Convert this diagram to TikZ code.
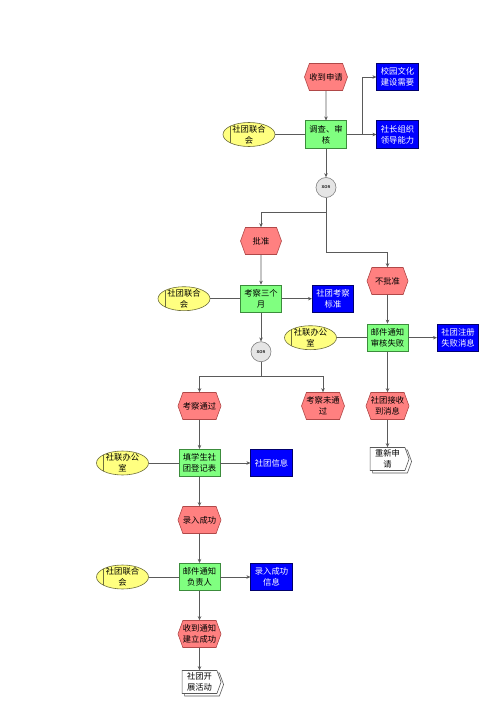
\documentclass[tikz,border=0pt]{standalone}
\usepackage{fontspec}
\newfontfamily\cjk{Noto Sans CJK SC}
\usepackage[dvipsnames]{xcolor}
\usepackage{tikz}
\usetikzlibrary{shadows}
\usetikzlibrary{arrows.meta, positioning, shapes.geometric, shapes.symbols}
\definecolor{evfill}{HTML}{FF8080}
\definecolor{evline}{HTML}{B04848}
\definecolor{fnfill}{HTML}{80FF80}
\definecolor{fnline}{HTML}{3C8C3C}
\definecolor{infill}{HTML}{0000FF}
\definecolor{inline}{HTML}{00006E}
\definecolor{unfill}{HTML}{FFFF80}
\definecolor{unline}{HTML}{6E6E3C}
\definecolor{wire}{HTML}{5A5A5A}

\begin{document}
\begin{tikzpicture} [auto, node distance =57pt and 72pt ,on grid, semithick,
	font=\cjk\fontsize{8.3}{11}\selectfont,
	event/.style ={signal, signal to=east and west, signal pointer angle=140, draw=evline, fill=evfill, minimum width=41pt, minimum height=27pt, inner sep=0pt, align=center},
	func/.style ={rectangle, draw=fnline, fill=fnfill, minimum width=41pt, minimum height=27.5pt, inner sep=0pt, align=center},
	info/.style ={rectangle, draw=inline, fill=infill, text=white, minimum width=41.5pt, minimum height=27.5pt, inner sep=0pt, align=center},
	unit/.style ={ellipse, draw=unline, fill=unfill, minimum width=52pt, minimum height=24pt, inner sep=-4pt, align=center,
		path picture={\draw[unline] ([xshift=7pt]path picture bounding box.north west) -- ([xshift=7pt]path picture bounding box.south west);}},
	xor/.style ={circle, draw=gray, fill=gray!20, minimum size=20pt, inner sep=0pt, font=\sffamily\bfseries\fontsize{4}{4}\selectfont},
	doc/.style ={signal, signal to=east, signal pointer angle=140, draw=gray!70!black, fill=white, minimum width=39pt, minimum height=23pt, inner sep=0pt, align=center,
		copy shadow={shadow xshift=2.5pt, shadow yshift=-2.5pt, fill=white, draw=gray!70!black}},
	flow/.style ={draw=wire, -{Stealth[length=4pt, width=3.5pt]}},
	link/.style ={draw=wire}]
		\useasboundingbox (0,0) rectangle (500pt,-707pt);
		% application and review
		\node[event] (recv) at (326pt,-77pt) {收到申请};
		\node[func] (check) [below=57.5pt of recv] {调查、审\\核};
		\node[unit] (org1) [left=77pt of check] {社团联合\\会};
		\node[info] (cult) [right=71.5pt of recv] {校园文化\\建设需要};
		\node[info] (lead) [right=71.5pt of check] {社长组织\\领导能力};
		\node[xor] (xor1) [below=53pt of check] {XOR};
		% approved branch
		\node[event] (approve) [below left=53.5pt and 65pt of xor1] {批准};
		\node[func] (watch) [below=57.7pt of approve] {考察三个\\月};
		\node[unit] (org2) [left=77pt of watch] {社团联合\\会};
		\node[info] (std) [right=72pt of watch] {社团考察\\标准};
		\node[xor] (xor2) [below=53pt of watch] {XOR};
		\node[event] (pass) [below left=54.3pt and 61.5pt of xor2] {考察通过};
		\node[event] (fail) [below right=54.3pt and 62pt of xor2] {考察未通\\过};
		\node[func] (fill) [below=57pt of pass] {填学生社\\团登记表};
		\node[unit] (off2) [left=77pt of fill] {社联办公\\室};
		\node[info] (club) [right=72pt of fill] {社团信息};
		\node[event] (entered) [below=57pt of fill] {录入成功};
		\node[func] (mailok) [below=57pt of entered] {邮件通知\\负责人};
		\node[unit] (org3) [left=77pt of mailok] {社团联合\\会};
		\node[info] (okmsg) [right=72pt of mailok] {录入成功\\信息};
		\node[event] (notice) [below=57pt of mailok] {收到通知\\建立成功};
		\node[doc] (start) [below=48pt of notice] {社团开\\展活动};
		% rejected branch
		\node[event] (reject) [below right=93.5pt and 61.5pt of xor1] {不批准};
		\node[func] (mailfail) [below=56.7pt of reject] {邮件通知\\审核失败};
		\node[unit] (off1) [left=77pt of mailfail] {社联办公\\室};
		\node[info] (failmsg) [right=70.5pt of mailfail] {社团注册\\失败消息};
		\node[event] (got) [below=68.3pt of mailfail] {社团接收\\到消息};
		\node[doc] (again) [below=53pt of got] {重新申\\请};
		% connectors
		\path (recv) edge[flow] (check);
		\path (org1) edge[link] (check);
		\draw[flow] (check.east) -- ++(15pt,0) |- (cult);
		\path (check) edge[flow] (lead);
		\path (check) edge[flow] (xor1);
		\draw[flow] (xor1) -- ++(0,-25pt) -| (approve);
		\draw[flow] (xor1) -- ++(0,-64.5pt) -| (reject);
		\path (approve) edge[flow] (watch);
		\path (org2) edge[link] (watch);
		\path (watch) edge[flow] (std);
		\path (watch) edge[flow] (xor2);
		\draw[flow] (xor2) -- ++(0,-24.8pt) -| (pass);
		\draw[flow] (xor2) -- ++(0,-24.8pt) -| (fail);
		\path (pass) edge[flow] (fill);
		\path (off2) edge[link] (fill);
		\path (fill) edge[flow] (club);
		\path (fill) edge[flow] (entered);
		\path (entered) edge[flow] (mailok);
		\path (org3) edge[link] (mailok);
		\path (mailok) edge[flow] (okmsg);
		\path (mailok) edge[flow] (notice);
		\path (notice) edge[flow] (start);
		\path (reject) edge[flow] (mailfail);
		\path (off1) edge[link] (mailfail);
		\path (mailfail) edge[flow] (failmsg);
		\path (mailfail) edge[flow] (got);
		\path (got) edge[flow] (again);
	\end{tikzpicture}
\end{document}
